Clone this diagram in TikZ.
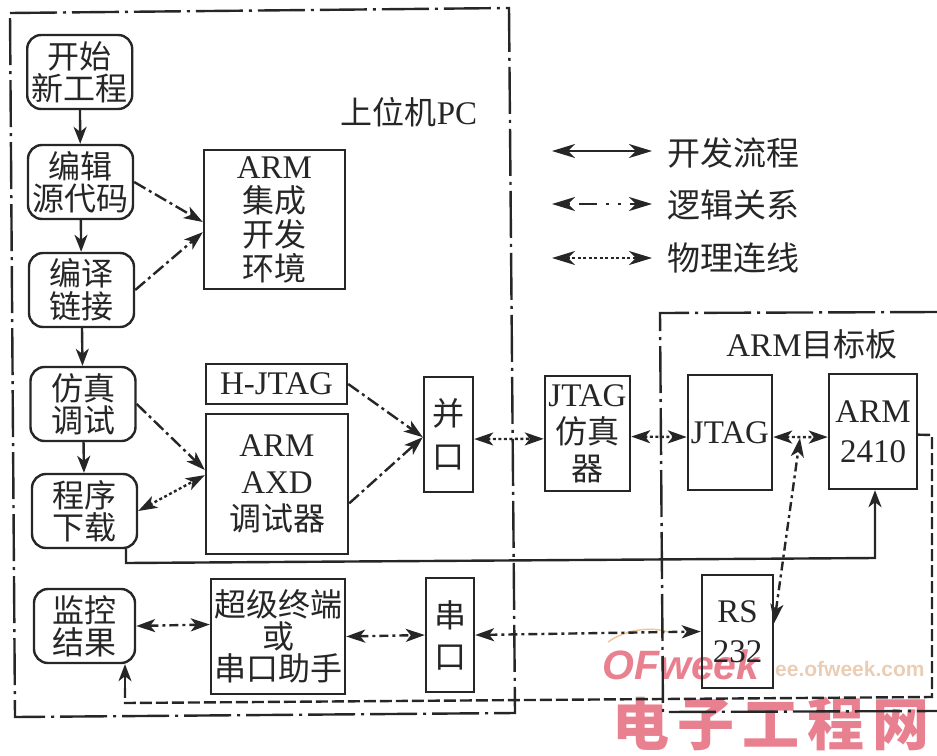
\documentclass[tikz,border=0pt]{standalone}
\usepackage{fontspec}
\setmainfont{Liberation Serif}
\newfontfamily\cjk{Noto Sans CJK SC}
\newfontfamily\wmsans{Liberation Sans}
\newcommand\zh[1]{{\cjk\fontsize{32}{\baselineskip}\selectfont #1}}
\usetikzlibrary{arrows.meta}
\definecolor{ink}{HTML}{262626}
\definecolor{wmred}{HTML}{E8808F}
\definecolor{wmpale}{HTML}{EBCDB4}
\definecolor{wmorange}{HTML}{EDC79A}
\tikzset{
  ls/.style={font=\fontsize{33}{#1}\selectfont},
  box/.style={draw=ink,line width=2.4pt,inner sep=0pt,align=center,text=ink,anchor=center},
  flowbox/.style={box,rounded corners=14pt,minimum width=105pt,minimum height=74pt},
  label/.style={inner sep=0pt,text=ink,align=center},
  conn/.style={draw=ink,line width=2.4pt},
  flow/.style={conn,-{Stealth[length=17pt,width=13pt,inset=5pt]}},
  logic/.style={conn,dash pattern=on 13pt off 4pt on 3pt off 4pt,-{Stealth[length=19pt,width=13pt,inset=5pt]}},
  logicb/.style={conn,dash pattern=on 9pt off 4pt on 3pt off 4pt,{Stealth[length=19pt,width=13pt,inset=5pt]}-{Stealth[length=19pt,width=13pt,inset=5pt]}},
  phys/.style={conn,dash pattern=on 3pt off 2.5pt,{Stealth[length=19pt,width=13pt,inset=5pt]}-{Stealth[length=19pt,width=13pt,inset=5pt]}},
  legendarrow/.style={conn,shorten >=15pt,{Stealth[length=23pt,width=14pt,inset=7pt]}-{Stealth[length=23pt,width=14pt,inset=7pt]}},
  frameline/.style={draw=ink,line width=2.4pt,dash pattern=on 47pt off 6pt on 3pt off 6pt},
  dashedline/.style={draw=ink,line width=2.4pt,dash pattern=on 12pt off 4pt},
}
\begin{document}
\begin{tikzpicture}[x=1pt,y=-1pt]
\useasboundingbox (0,0) rectangle (937,755);
% watermark
\node[inner sep=0pt,anchor=west,text=wmred] (wm1) at (612,724) {\fontsize{57}{57}\selectfont\cjk\bfseries\addfontfeature{LetterSpace=14} 电子工程网};
\node[inner sep=0pt,anchor=west,text=wmred] (wm2) at (602,665) {\fontsize{41}{41}\selectfont\wmsans\bfseries\itshape OFweek};
\node[inner sep=0pt,anchor=west,text=wmpale] (wm3) at (775,669) {\fontsize{21}{21}\selectfont\wmsans\bfseries ee.ofweek.com};
\draw[wmorange,line width=1.5pt] (608,642) .. controls (625,630) and (650,626) .. (668,632);
% frames
\draw[frameline] (10,13) -- (509,8) -- (515,713) -- (15,717) -- cycle;
\draw[frameline] (937,312) -- (660,313) -- (663,712) -- (937,711);
% flow boxes
\node[flowbox,ls=32] (start) at (79.7,72) {\zh{开始}\\\zh{新工程}};
\node[flowbox,ls=32] (edit) at (80.5,182) {\zh{编辑}\\\zh{源代码}};
\node[flowbox,ls=33] (compile) at (81.5,290) {\zh{编译}\\\zh{链接}};
\node[flowbox,ls=32] (sim) at (83,404) {\zh{仿真}\\\zh{调试}};
\node[flowbox,ls=32] (load) at (84.5,511) {\zh{程序}\\\zh{下载}};
\node[flowbox,ls=32,minimum width=101pt] (monitor) at (84.5,626) {\zh{监控}\\\zh{结果}};
% square boxes
\node[box,ls=34,minimum width=141pt,minimum height=139pt] (ide) at (274.5,219.5) {ARM\\\zh{集成}\\\zh{开发}\\\zh{环境}};
\node[box,ls=34,minimum width=141pt,minimum height=40pt] (hjtag) at (276.5,384) {H-JTAG};
\node[box,ls=37,minimum width=142pt,minimum height=140pt] (axd) at (277,484) {ARM\\AXD\\\zh{调试器}};
\node[box,ls=32,minimum width=134pt,minimum height=115pt] (term) at (278,636.5) {\zh{超级终端}\\\zh{或}\\\zh{串口助手}};
\node[box,ls=43,minimum width=49pt,minimum height=115pt] (par) at (448.5,434.5) {\zh{并}\\\zh{口}};
\node[box,ls=41,minimum width=48pt,minimum height=114pt] (ser) at (450,635) {\zh{串}\\\zh{口}};
\node[box,ls=37,minimum width=85pt,minimum height=115pt] (emu) at (587.5,433.5) {JTAG\\\zh{仿真}\\\zh{器}};
\node[box,ls=37,minimum width=84pt,minimum height=115pt] (jtag) at (730,432.5) {JTAG};
\node[box,ls=40,minimum width=88pt,minimum height=115pt] (cpu) at (873,431.5) {ARM\\2410};
\node[box,ls=40,minimum width=71pt,minimum height=113pt] (rs) at (737.5,631.5) {RS\\232};
% labels
\node[label,ls=34] (pc) at (409,112) {\zh{上位机}PC};
\node[label,ls=34] (board) at (812,344) {ARM\zh{目标板}};
\node[label,anchor=west,font=\fontsize{33}{34}\selectfont\cjk] (l1) at (667,153) {开发流程};
\node[label,anchor=west,font=\fontsize{33}{34}\selectfont\cjk] (l2) at (667,205) {逻辑关系};
\node[label,anchor=west,font=\fontsize{33}{34}\selectfont\cjk] (l3) at (667,258) {物理连线};
% legend
\coordinate (la1) at (552,151);
\coordinate (la2) at (552,204);
\coordinate (la3) at (552,258);
\draw[legendarrow] (la1) -- (l1.west |- la1);
\draw[legendarrow,dash pattern=on 3pt off 9pt on 18pt off 9pt on 3pt off 9pt] (la2) -- (l2.west |- la2);
\draw[legendarrow,dash pattern=on 3pt off 2.5pt] (la3) -- (l3.west |- la3);
% development flow
\draw[flow] (start) -- (edit);
\draw[flow] (edit) -- (compile);
\draw[flow] (compile) -- (sim);
\draw[flow] (sim) -- (load);
\coordinate (s1) at (126,563);
\coordinate (s2) at (875,558);
\draw[flow] (load.south -| s1) -- (s1) -- (s2) -- (cpu.south -| s2);
% logic relations
\draw[logic] (edit.east) -- (ide.182);
\draw[logic] (compile.east) -- (ide.190);
\draw[logic] (sim.east) -- (axd.169);
\draw[phys] (load.east) -- (axd.173);
\draw[logic] (hjtag.east) -- (par.186);
\draw[logic] (axd.-15) -- (par.186);
\draw[logicb] (monitor.east) -- (term.170);
\draw[logicb] (term.east) -- (ser.west);
\draw[logicb] (ser.east) -- (rs.west);
\draw[phys] (par.-10) -- (emu.187);
\draw[phys] (emu.-4) -- (jtag.186);
\draw[phys] (jtag.-6) -- (cpu.187);
\coordinate (bus) at (800,438);
\draw[logicb] (rs.13) -- (bus);
% monitor return
\coordinate (d1) at (932,435);
\coordinate (d2) at (932,697);
\coordinate (d3) at (125,703);
\coordinate (d4) at (125,688);
\draw[dashedline] (cpu.-4) -- (d1) -- (d2) -- (d3) -- (d4);
\draw[flow] (d4) -- (monitor.south -| d3);
\end{tikzpicture}
\end{document}
